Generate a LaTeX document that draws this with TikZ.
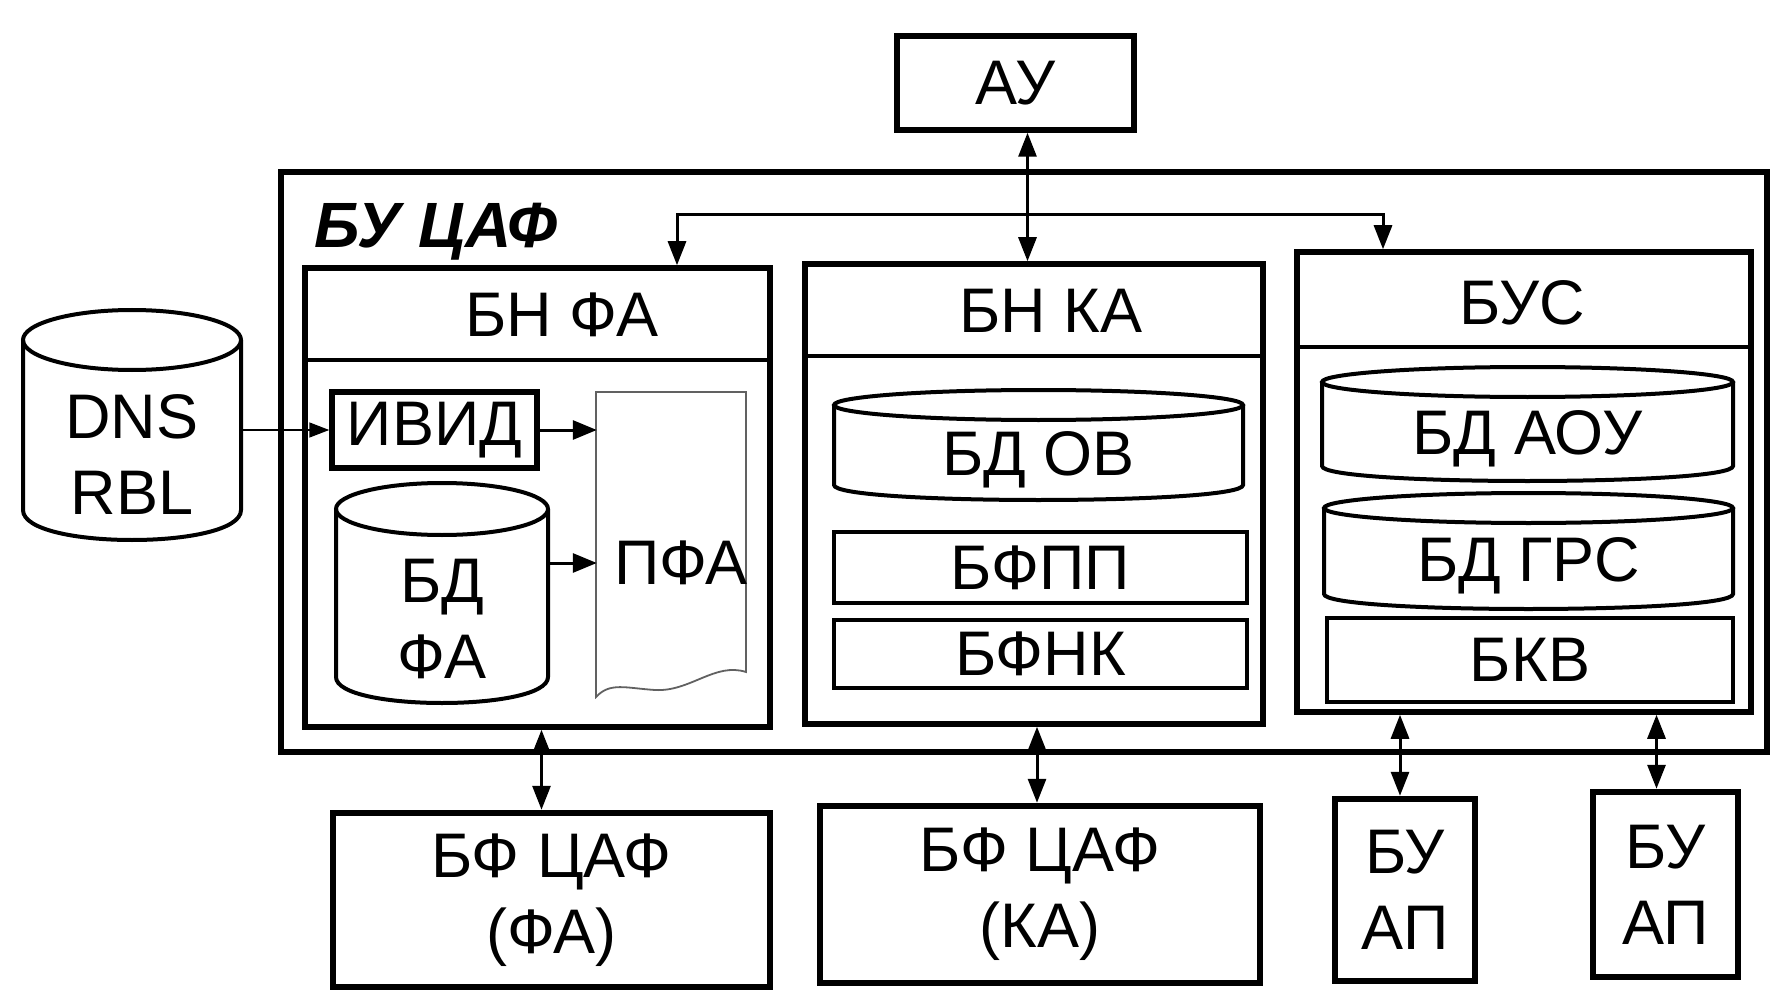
\documentclass[tikz,border=0pt]{standalone}
\usepackage{fontspec}
\setmainfont{Liberation Sans}
\usetikzlibrary{arrows.meta}
\tikzset{
  every node/.style={font=\fontsize{63}{76}\selectfont, inner sep=0pt, align=center},
  heavy/.style={draw, line width=5.5pt},
  light/.style={draw, line width=3.2pt},
  basebox/.style={draw, line width=6.5pt},
  cylline/.style={line width=4pt},
  divline/.style={line width=4.5pt},
  docline/.style={line width=1.8pt, black!62},
  dbl/.style={line width=3pt, {Triangle[length=24pt,width=18pt]}-{Triangle[length=24pt,width=18pt]}},
  one/.style={line width=3pt, -{Triangle[length=24pt,width=19pt]}},
  thinone/.style={line width=1.6pt, -{Triangle[length=20pt,width=15pt]}},
}
\newcommand{\rbox}[7]{\node[#1, minimum width={(#5-#3)*1pt}, minimum height={(#6-#4)*1pt}] (#2) at ({(#3+#5)/2},{(#4+#6)/2}) {#7};}
\newcommand{\mycyl}[7]{%
  \draw[cylline] (#2,{#3+#6}) -- (#2,{#5-#6}) .. controls (#2,{#5+#6/3}) and (#4,{#5+#6/3}) .. (#4,{#5-#6}) -- (#4,{#3+#6});
  \draw[cylline] ({(#2+#4)/2},{#3+#6}) ellipse [x radius={(#4-#2)/2*1pt}, y radius={#6*1pt}];
  \node[minimum width={(#4-#2)*1pt}, minimum height={(#5-#3-2*#6)*1pt}] (#1) at ({(#2+#4)/2},{(#3+2*#6+#5)/2}) {#7};
}
\begin{document}
\begin{tikzpicture}[x=1pt,y=-1pt]
\useasboundingbox (0,0) rectangle (1775,992);
% top unit
\rbox{heavy}{au}{897}{36}{1134}{130}{АУ}
% outer block
\rbox{heavy}{bucaf}{281}{172}{1767}{752}{}
\node[anchor=west, font=\fontsize{64}{70}\selectfont\bfseries\itshape] (bucafl) at (314,232) {БУ ЦАФ};
% three inner blocks
\rbox{heavy}{bnfa}{305}{268}{770}{727}{}
\draw[divline] (305,360) -- (770,360);
\node (bnfah) at (562,315) {БН ФА};
\rbox{heavy}{bnka}{805}{264}{1263}{724}{}
\draw[divline] (805,356) -- (1263,356);
\node (bnkah) at (1051,311) {БН КА};
\rbox{heavy}{bus}{1297}{252}{1751}{712}{}
\draw[divline] (1297,347) -- (1751,347);
\node (bush) at (1522,303) {БУС};
% DNS RBL
\mycyl{dns}{23}{310}{241}{540}{30}{DNS\\RBL}
% BN FA content
\rbox{heavy}{ivid}{332}{392}{537}{468}{ИВИД}
\mycyl{bdfa}{336}{483}{548}{703}{26}{БД\\ФА}
\draw[docline] (596,392) -- (746,392) -- (746,672)
  .. controls (715,662) and (690,692) .. (655,690)
  .. controls (625,688) and (610,682) .. (596,697) -- cycle;
\node[minimum width=168pt] (pfa) at (681,563) {ПФА};
% BN KA content
\mycyl{bdov}{834}{390}{1243}{500}{15}{БД ОВ}
\rbox{light}{bfpp}{834}{532}{1247}{603}{БФПП}
\rbox{light}{bfnk}{834}{620}{1247}{688}{БФНК}
% BUS content
\mycyl{bdaou}{1322}{367}{1733}{481}{15}{БД АОУ}
\mycyl{bdgrs}{1324}{493}{1733}{609}{15}{БД ГРС}
\rbox{light}{bkv}{1327}{618}{1733}{702}{БКВ}
% bottom row
\rbox{basebox}{ffa}{333}{813}{770}{987}{БФ ЦАФ\\(ФА)}
\rbox{basebox}{fka}{820}{806}{1260}{983}{БФ ЦАФ\\(КА)}
\rbox{basebox}{ap1}{1335}{799}{1475}{981}{БУ\\АП}
\rbox{basebox}{ap2}{1593}{792}{1738}{977}{БУ\\АП}
% connectors
\coordinate (busl) at (677,215);
\coordinate (busr) at (1383,215);
\draw[dbl] (bnfa.north -| busl) -- (busl) -- (busr) -- (bus.north -| busr);
\draw[dbl] ([xshift=12pt]au.south) -- ([xshift=12pt]au.south |- bnka.north);
\draw[thinone] (ivid.west -| dns.east) -- (ivid.west);
\draw[one] (ivid.east) -- (ivid.east -| pfa.west);
\draw[one] (bdfa.east |- pfa.west) -- (pfa.west);
\draw[dbl] ([xshift=-10pt]ffa.north |- bnfa.south) -- ([xshift=-10pt]ffa.north);
\draw[dbl] ([xshift=-3pt]fka.north |- bnka.south) -- ([xshift=-3pt]fka.north);
\draw[dbl] ([xshift=-5pt]ap1.north |- bus.south) -- ([xshift=-5pt]ap1.north);
\draw[dbl] ([xshift=-9pt]ap2.north |- bus.south) -- ([xshift=-9pt]ap2.north);
\end{tikzpicture}
\end{document}
